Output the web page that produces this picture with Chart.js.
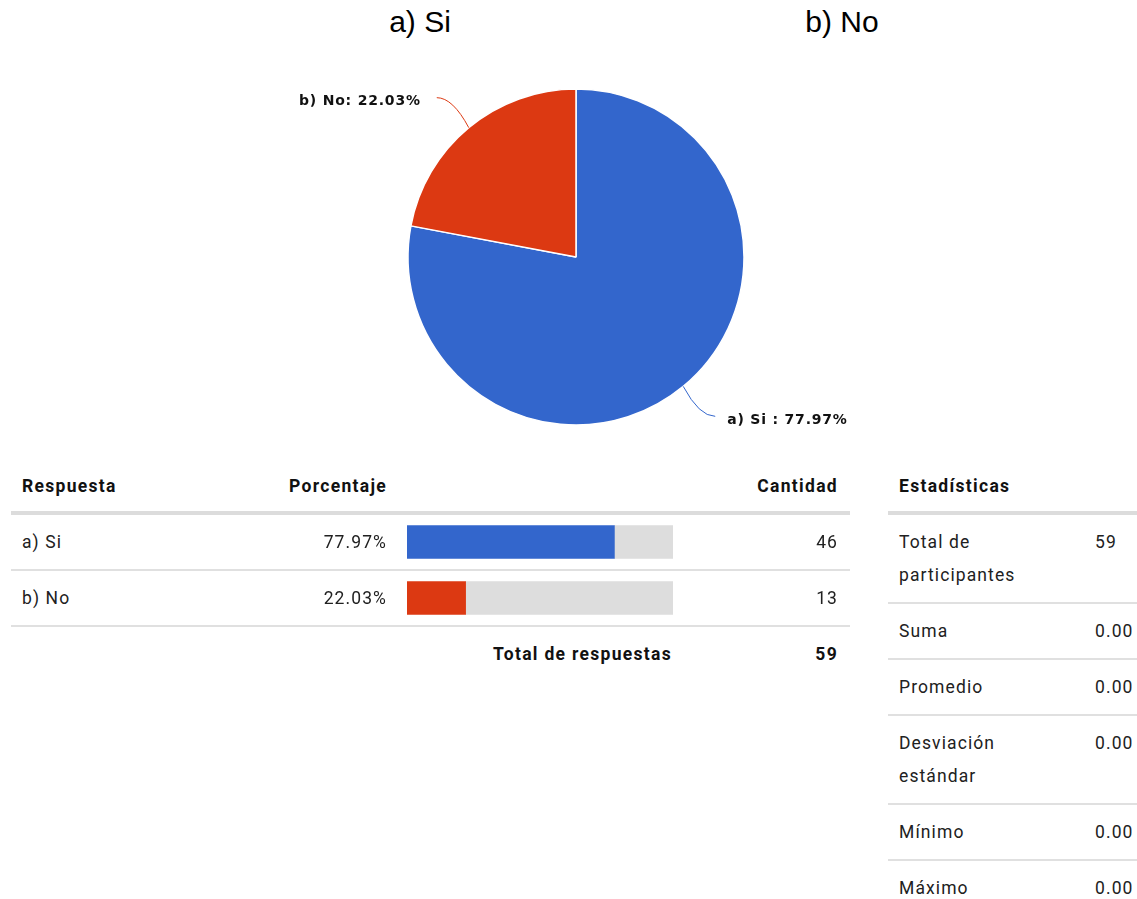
<!DOCTYPE html>
<html>
<head>
<meta charset="utf-8">
<script src="https://cdn.jsdelivr.net/npm/chart.js@4/dist/chart.umd.min.js"></script>
<style>
  html, body { margin: 0; padding: 0; background: #fff; }
  body { width: 1137px; height: 899px; position: relative; overflow: hidden; font-family: Roboto, "Noto Sans", sans-serif; color: #212121; }
  .t { position: absolute; white-space: nowrap; font-size: 17.5px; letter-spacing: 1.1px; line-height: 20px; }
  .b { font-weight: bold; color: #111; letter-spacing: 1.3px; }
  .r { text-align: right; }
  .title { position: absolute; font-family: "Liberation Sans", Arial, sans-serif; font-size: 30px; line-height: 36px; color: #000; transform: translateX(-50%); top: 4px; white-space: nowrap; }
  .rule { position: absolute; background: #e0e0e0; height: 2px; }
  .rule.thick { height: 4px; background: #dcdcdc; }
  canvas { position: absolute; }
</style>
</head>
<body>
<canvas id="pie" width="600" height="380" style="left:276px; top:67px; width:600px; height:380px;"></canvas>
<canvas id="bars" width="266" height="112" style="left:407px; top:514px; width:266px; height:112px;"></canvas>
<script>
// Survey answers and counts
const categories = ['a) Si', 'b) No'];
const counts = [46, 13];
const labelSeparators = [' : ', ': '];
const sliceColors = ['#3366CC', '#DC3912'];
const trackColor = '#DDDDDD';

// Summary statistics column
const statLabels = ['Total de participantes', 'Suma', 'Promedio', 'Desviación estándar', 'Mínimo', 'Máximo'];
const statValues = ['59', '0.00', '0.00', '0.00', '0.00', '0.00'];

const total = counts.reduce((a, b) => a + b, 0);
const percents = counts.map(c => Math.round(c / total * 10000) / 100);
const fmtPct = p => p.toFixed(2) + '%';

// ---------- helpers for the tables ----------
function text(str, x, yc, opts = {}) {
  const d = document.createElement('div');
  d.className = 't' + (opts.bold ? ' b' : '') + (opts.right ? ' r' : '');
  d.textContent = str;
  if (opts.right) d.style.right = (1137 - x) + 'px';
  else d.style.left = x + 'px';
  if (opts.width) {
    // wrapped label: yc is the centre of the first line
    d.style.width = opts.width + 'px';
    d.style.whiteSpace = 'normal';
    d.style.lineHeight = opts.lh + 'px';
    d.style.top = (yc - opts.lh / 2) + 'px';
  } else {
    d.style.top = (yc - 10) + 'px';
  }
  document.body.appendChild(d);
}
function rule(x1, x2, y, thick) {
  const d = document.createElement('div');
  d.className = 'rule' + (thick ? ' thick' : '');
  d.style.left = x1 + 'px';
  d.style.width = (x2 - x1) + 'px';
  d.style.top = (y - (thick ? 2 : 1)) + 'px';
  document.body.appendChild(d);
}

// Category headings above the pie
const titleX = [420, 842];
categories.forEach((c, i) => {
  const d = document.createElement('div');
  d.className = 'title';
  d.textContent = c;
  d.style.left = titleX[i] + 'px';
  document.body.appendChild(d);
});

// Responses table
text('Respuesta', 22, 486, { bold: true });
text('Porcentaje', 387, 486, { bold: true, right: true });
text('Cantidad', 838, 486, { bold: true, right: true });
rule(11, 850, 513, true);
categories.forEach((c, i) => {
  const yc = 542 + i * 56;
  text(c, 22, yc);
  text(fmtPct(percents[i]), 387, yc, { right: true });
  text(String(counts[i]), 838, yc, { right: true });
  rule(11, 850, yc + 28);
});
text('Total de respuestas', 672, 654, { bold: true, right: true });
text(String(total), 838, 654, { bold: true, right: true });

// Statistics table
text('Estadísticas', 899, 486, { bold: true });
rule(888, 1137, 513, true);
const statRowHeights = [89, 56, 56, 89, 56, 56];
let y0 = 514;
statLabels.forEach((l, i) => {
  const h = statRowHeights[i];
  if (h > 60) text(l, 899, y0 + 28, { width: 160, lh: 33 });
  else text(l, 899, y0 + 28);
  text(statValues[i], 1095, y0 + 28);
  y0 += h;
  if (i < statLabels.length - 1) rule(888, 1137, y0);
});

// ---------- pie with leader-line labels ----------
const leaderLabels = {
  id: 'leaderLabels',
  afterDatasetsDraw(chart) {
    const ctx = chart.ctx;
    const meta = chart.getDatasetMeta(0);
    meta.data.forEach((arc, i) => {
      const { x, y, startAngle, endAngle, outerRadius } = arc.getProps(['x', 'y', 'startAngle', 'endAngle', 'outerRadius'], true);
      const mid = (startAngle + endAngle) / 2;
      const ex = x + outerRadius * Math.cos(mid);
      const ey = y + outerRadius * Math.sin(mid);
      const dx = Math.cos(mid) >= 0 ? 1 : -1;
      const dy = Math.sin(mid) >= 0 ? 1 : -1;
      const tx = ex + dx * 32;
      const ty = ey + dy * 30;
      ctx.save();
      ctx.strokeStyle = sliceColors[i];
      ctx.lineWidth = 1;
      ctx.beginPath();
      ctx.moveTo(ex, ey);
      ctx.quadraticCurveTo(ex + dx * 16, ty, tx, ty);
      ctx.stroke();
      ctx.font = 'bold 14px "DejaVu Sans"';
      ctx.letterSpacing = '0.8px';
      ctx.fillStyle = '#111';
      ctx.textBaseline = 'middle';
      ctx.textAlign = dx > 0 ? 'left' : 'right';
      ctx.fillText(categories[i] + labelSeparators[i] + fmtPct(percents[i]), tx + dx * (dx > 0 ? 12 : 16), ty + 4);
      ctx.restore();
    });
  }
};

new Chart(document.getElementById('pie'), {
  type: 'pie',
  data: {
    labels: categories,
    datasets: [{
      data: counts,
      backgroundColor: sliceColors,
      borderColor: '#ffffff',
      borderWidth: 1.5,
      radius: 168
    }]
  },
  options: {
    responsive: false,
    animation: false,
    layout: { padding: 0 },
    plugins: { legend: { display: false }, tooltip: { enabled: false } }
  },
  plugins: [leaderLabels]
});

// ---------- percentage bars inside the table ----------
new Chart(document.getElementById('bars'), {
  type: 'bar',
  data: {
    labels: categories,
    datasets: [
      { data: percents, backgroundColor: sliceColors, barThickness: 33, borderWidth: 0 },
      { data: percents.map(p => 100 - p), backgroundColor: trackColor, barThickness: 33, borderWidth: 0 }
    ]
  },
  options: {
    indexAxis: 'y',
    responsive: false,
    animation: false,
    layout: { padding: 0 },
    scales: {
      x: { stacked: true, min: 0, max: 100, display: false },
      y: { stacked: true, display: false }
    },
    plugins: { legend: { display: false }, tooltip: { enabled: false } }
  }
});
</script>
</body>
</html>
